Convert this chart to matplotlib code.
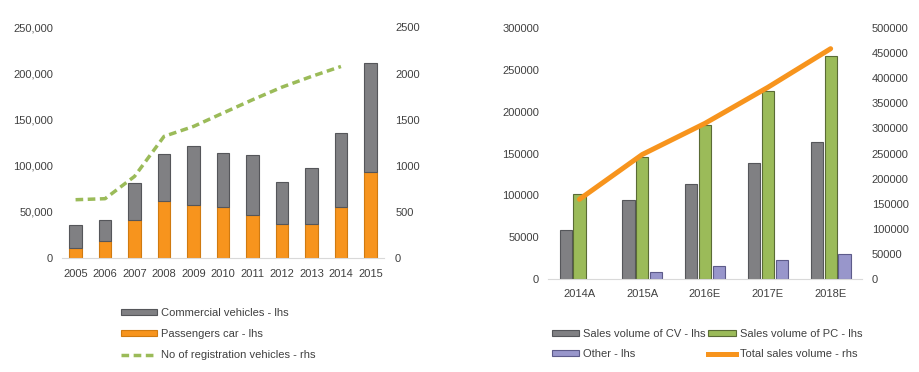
import numpy as np
import matplotlib
matplotlib.use("Agg")
import matplotlib.pyplot as plt
from matplotlib.patches import Patch
from matplotlib.lines import Line2D
from matplotlib.ticker import FuncFormatter

plt.rcParams['font.family'] = ['Liberation Sans', 'DejaVu Sans']
plt.rcParams['font.size'] = 8
txt = '#404040'

# left chart data
years = ['2005', '2006', '2007', '2008', '2009', '2010', '2011', '2012', '2013', '2014', '2015']
passenger = [10500, 18400, 41200, 61800, 57400, 55300, 47000, 36900, 36900, 55300, 92900]
commercial = [25300, 23100, 40500, 50900, 63600, 58500, 64600, 45100, 60600, 80200, 118500]
registrations = [632, 643, 885, 1319, 1427, 1572, 1716, 1853, 1969, 2077]

# right chart data
periods = ['2014A', '2015A', '2016E', '2017E', '2018E']
sales_cv = [58400, 95000, 114000, 139100, 164100]
sales_pc = [101300, 145400, 184000, 224500, 265900]
other = [0, 9100, 15500, 23000, 30200]
total_sales = [159000, 248000, 310000, 381500, 458300]

grey = '#808083'
grey_edge = '#55565a'
orange = '#F7941D'
green = '#9BBB59'
purple = '#9896CB'

fig = plt.figure(figsize=(9.2, 3.72), dpi=100)

# ---- left chart ----
ax1 = fig.add_axes([0.0674, 0.3065, 0.35, 0.6196])
x = np.arange(len(years))
ax1.bar(x, passenger, 0.42, color=orange, edgecolor='#d07a10', linewidth=0.8)
ax1.bar(x, commercial, 0.42, bottom=passenger, color=grey, edgecolor=grey_edge, linewidth=0.8)
ax1.set_xlim(-0.46, 10.46)
ax1.set_ylim(0, 250000)
ax1.set_yticks(np.arange(0, 250001, 50000))
ax1.yaxis.set_major_formatter(FuncFormatter(lambda v, p: f'{int(v):,}'))
ax1.set_xticks(x)
ax1.set_xticklabels(years)

ax1r = ax1.twinx()
ax1r.plot(np.arange(len(registrations)), registrations, color=green, lw=2.5,
          dashes=(2.2, 1.3))
ax1r.set_ylim(0, 2500)
ax1r.set_yticks(np.arange(0, 2501, 500))

for a in (ax1, ax1r):
    for s in a.spines.values():
        s.set_visible(False)
    a.tick_params(length=0, colors=txt, labelsize=8)
ax1.spines['bottom'].set_visible(True)
ax1.spines['bottom'].set_color('#d9d9d9')
ax1.tick_params(axis='y', pad=6.5)
ax1.tick_params(axis='x', pad=8)
ax1r.tick_params(axis='y', pad=8)

h1 = [Patch(facecolor=grey, edgecolor=grey_edge, linewidth=0.8),
      Patch(facecolor=orange, edgecolor='#d07a10', linewidth=0.8),
      Line2D([], [], color=green, lw=2.5, dashes=(2.2, 1.3))]
l1 = ['Commercial vehicles - lhs', 'Passengers car - lhs', 'No of registration vehicles - rhs']
fig.legend(h1, l1, loc='upper left', bbox_to_anchor=(0.131, 0.172), frameon=False,
           borderpad=0, borderaxespad=0, handlelength=3.3, handleheight=0.45,
           handletextpad=0.36, labelspacing=1.0, labelcolor=txt, fontsize=8)

# ---- right chart ----
ax2 = fig.add_axes([0.5957, 0.2492, 0.3413, 0.6763])
xr = np.arange(len(periods))
w = 0.195
ax2.bar(xr - 0.22, sales_cv, w, color=grey, edgecolor=grey_edge, linewidth=0.8)
ax2.bar(xr, sales_pc, w, color=green, edgecolor='#5a6b35', linewidth=0.8)
ax2.bar(xr[1:] + 0.22, other[1:], w, color=purple, edgecolor='#5d5b8a', linewidth=0.8)
ax2.set_xlim(-0.5, 4.5)
ax2.set_ylim(0, 300000)
ax2.set_yticks(np.arange(0, 300001, 50000))
ax2.set_xticks(xr)
ax2.set_xticklabels(periods)

ax2r = ax2.twinx()
ax2r.plot(xr, total_sales, color=orange, lw=3.6, solid_capstyle='round')
ax2r.set_ylim(0, 500000)
ax2r.set_yticks(np.arange(0, 500001, 50000))

for a in (ax2, ax2r):
    for s in a.spines.values():
        s.set_visible(False)
    a.tick_params(length=0, colors=txt, labelsize=8)
ax2.spines['bottom'].set_visible(True)
ax2.spines['bottom'].set_color('#d9d9d9')
ax2.tick_params(axis='y', pad=6.5)
ax2.tick_params(axis='x', pad=7)
ax2r.tick_params(axis='y', pad=7)

h2 = [Patch(facecolor=grey, edgecolor=grey_edge, linewidth=0.8),
      Patch(facecolor=purple, edgecolor='#5d5b8a', linewidth=0.8),
      Patch(facecolor=green, edgecolor='#5a6b35', linewidth=0.8),
      Line2D([], [], color=orange, lw=3.6)]
l2 = ['Sales volume of CV - lhs', 'Other - lhs', 'Sales volume of PC - lhs', 'Total sales volume - rhs']
fig.legend(h2, l2, loc='upper left', bbox_to_anchor=(0.600, 0.116), frameon=False, ncol=2,
           borderpad=0, borderaxespad=0, handlelength=2.45, handleheight=0.45,
           handletextpad=0.36, labelspacing=0.95, columnspacing=0.25,
           labelcolor=txt, fontsize=8)

fig.savefig('out.png', dpi=100)
